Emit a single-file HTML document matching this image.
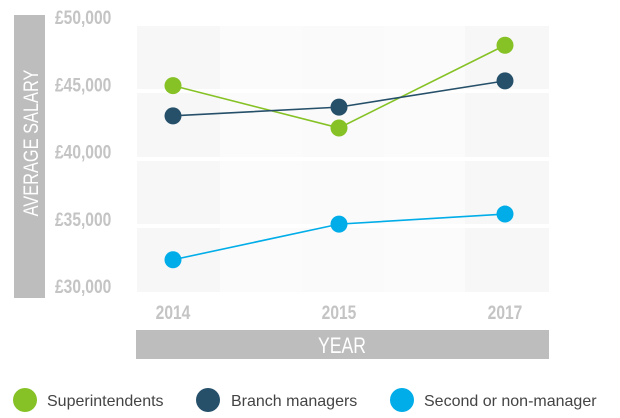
<!DOCTYPE html>
<html><head><meta charset="utf-8"><style>
body{margin:0;background:#fff;width:620px;height:418px;overflow:hidden;font-family:"Liberation Sans",sans-serif}
svg{display:block}
</style></head><body>
<svg width="620" height="418">
<g id="bg"></g>
<rect x="14" y="15" width="31" height="283" fill="#bdbdbd"/>
<text transform="translate(38,143) rotate(-90) scale(0.78,1)" text-anchor="middle" font-size="21" fill="#fff">AVERAGE SALARY</text>
<g id="yticks"></g>
<g id="xticks"></g>
<rect x="136" y="330" width="413" height="29" fill="#bdbdbd"/>
<text transform="translate(342,353) scale(0.8,1)" text-anchor="middle" font-size="22" fill="#fff">YEAR</text>
<g id="series"></g>
<g>
<g><circle cx="25" cy="400" r="12" fill="#86c225"/><text x="47" y="406" font-size="16" fill="#444">Superintendents</text></g>
<g><circle cx="208" cy="400" r="12" fill="#26506a"/><text x="231" y="406" font-size="16" fill="#444">Branch managers</text></g>
<g><circle cx="402" cy="400" r="12" fill="#00ade8"/><text x="424" y="406" font-size="16" fill="#444">Second or non-manager</text></g>
</g>
</svg>
<script>
const years=["2014","2015","2017"];
const superintendents=[44900,41750,47900];
const branchManagers=[42650,43300,45250];
const secondOrNon=[31950,34600,35350];
const yTicks=[30000,35000,40000,45000,50000];
const yTickLabels=["£30,000","£35,000","£40,000","£45,000","£50,000"];
const NS="http://www.w3.org/2000/svg";
const x0=137,x1=549,yTop=26,yBot=292;
const xs=i=>173+i*166;
const ys=v=>286-(v-30000)/20000*269;
function mk(t,a,p){const e=document.createElementNS(NS,t);for(const k in a)e.setAttribute(k,a[k]);p.appendChild(e);return e;}
const bg=document.getElementById('bg');
const bands=[[137,220,'#f7f7f7'],[220,302,'#fbfbfb'],[302,384,'#fafafa'],[384,465,'#fbfbfb'],[465,549,'#f7f7f7']];
bands.forEach(b=>{const r=mk('rect',{x:b[0],y:yTop,width:b[1]-b[0],height:yBot-yTop,fill:b[2]},bg);

});
[91,159,226].forEach(y=>{const r=mk('rect',{x:x0,y:y-2,width:x1-x0,height:4,fill:'#fff'},bg);

});
const yt=document.getElementById('yticks');
yTicks.forEach((v,i)=>{const t=mk('text',{transform:`translate(55,${ys(v)+7}) scale(0.82,1)`,'font-size':19,'font-weight':'bold',fill:'#c4c4c4'},yt);t.textContent=yTickLabels[i];

});
const xt=document.getElementById('xticks');
years.forEach((y,i)=>{const t=mk('text',{transform:`translate(${xs(i)},${319}) scale(0.82,1)`,'text-anchor':'middle','font-size':19,'font-weight':'bold',fill:'#c4c4c4'},xt);t.textContent=y;

});
const sg=document.getElementById('series');
[[superintendents,'#86c225','superintendents'],[branchManagers,'#26506a','branch-managers'],[secondOrNon,'#00ade8','second-or-non-manager']].forEach(s=>{
const pl=mk('polyline',{points:s[0].map((v,i)=>xs(i)+','+ys(v)).join(' '),fill:'none',stroke:s[1],'stroke-width':1.6},sg);


s[0].forEach((v,i)=>{const c=mk('circle',{cx:xs(i),cy:ys(v),r:8.5,fill:s[1]},sg);

});
});
</script>
</body></html>
